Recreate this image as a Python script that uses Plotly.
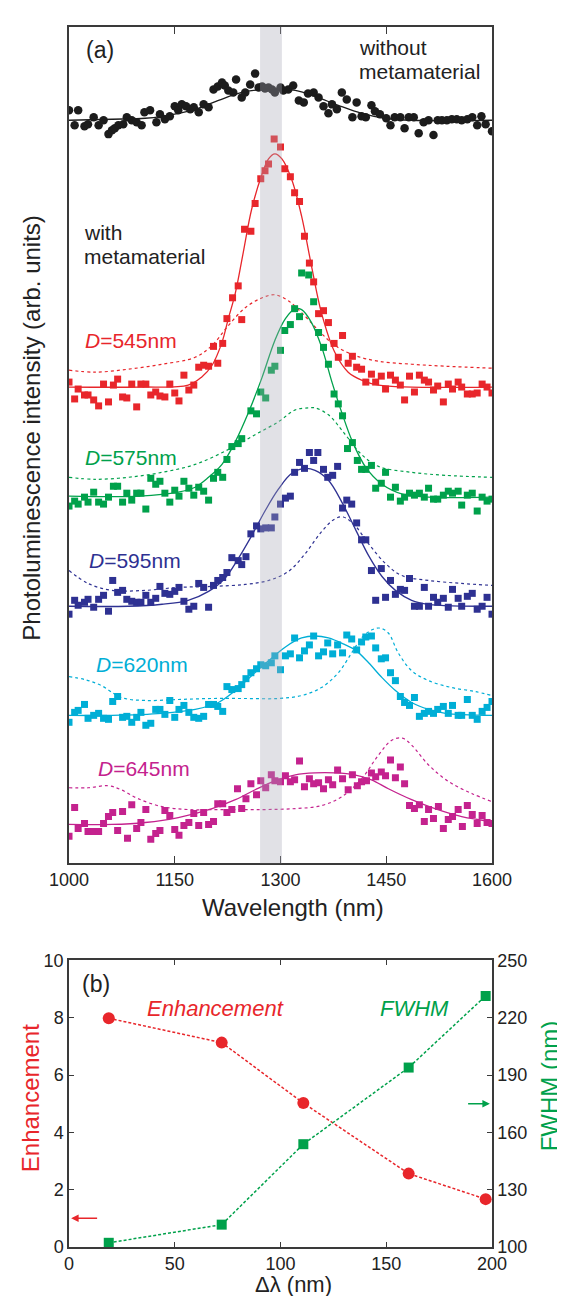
import plotly.graph_objects as go

FONT = "Liberation Sans, Arial, sans-serif"

# ---------------- Panel (a) data: wavelength (nm) / PL intensity (arb. units) ----------------
# without metamaterial (black circles)
ref_wl = [1000,1008,1013,1022,1027,1035,1042,1049,1056,1061,1065,1070,1077,1082,1089,1096,1103,1107,1115,1124,
          1129,1136,1143,1150,1155,1160,1166,1172,1177,1184,1191,1198,1205,1211,1217,1221,1226,1233,1237,1245,
          1250,1257,1264,1269,1274,1278,1283,1288,1292,1300,1304,1311,1318,1326,1333,1339,1347,1354,1361,1368,
          1373,1380,1387,1394,1402,1408,1415,1421,1429,1434,1441,1450,1456,1462,1470,1476,1482,1489,1496,1503,
          1510,1517,1523,1529,1536,1543,1550,1557,1565,1572,1579,1585,1591,1600]
ref_int = [75.9,74.4,75.9,74.3,74.5,75.2,74.4,74.9,73.5,73.9,74.1,74.4,74.5,75.2,74.9,74.7,74.4,75.7,75.9,74.7,
           75.5,75.0,75.3,76.3,75.9,76.5,76.3,76.0,76.2,75.7,76.5,76.2,78.0,78.3,78.7,78.4,77.9,77.7,79.0,77.2,
           77.7,78.5,79.6,78.2,78.3,78.1,78.2,78.0,77.7,78.2,77.9,78.0,78.4,76.9,76.7,77.6,77.7,77.2,76.3,75.6,
           76.5,76.0,77.7,77.0,75.2,76.7,75.3,75.2,76.4,75.8,75.5,75.1,74.4,75.2,75.2,74.1,75.2,75.2,73.6,74.7,
           74.9,73.4,74.9,74.9,74.9,75.0,75.0,74.9,75.0,75.2,74.4,75.3,74.5,73.8]
ref_fit_wl = [1000,1061,1108,1132,1179,1212,1245,1274,1292,1321,1349,1382,1415,1449,1486,1600]
ref_fit = [74.9,75.0,75.1,75.3,76.0,76.9,77.7,78.0,78.1,77.9,77.3,76.4,75.6,75.1,74.9,74.9]

# D = 545 nm (red)
d545_wl = [1000,1008,1013,1022,1027,1035,1042,1049,1056,1063,1069,1076,1082,1089,1096,1102,1109,1116,1123,1129,
           1136,1143,1150,1156,1163,1170,1177,1184,1191,1198,1205,1211,1218,1224,1232,1240,1245,1249,1258,1264,
           1272,1278,1283,1291,1300,1306,1314,1320,1327,1334,1341,1347,1354,1361,1368,1376,1382,1388,1396,1402,
           1408,1415,1421,1429,1435,1443,1449,1456,1463,1470,1476,1483,1490,1497,1504,1510,1517,1523,1531,1538,
           1544,1552,1557,1565,1572,1579,1586,1593,1600]
d545_int = [48.5,46.8,47.8,47.2,47.2,46.7,46.1,48.3,46.5,48.2,48.8,47.0,46.9,48.3,46.0,48.3,48.3,47.2,47.5,47.1,
            47.0,48.3,47.4,46.6,49.2,47.7,48.2,50.0,50.2,50.1,52.1,50.4,52.4,54.9,57.0,58.2,54.8,63.9,63.7,66.5,
            69.0,69.8,70.5,73.0,72.2,70.0,69.2,67.6,66.7,63.2,60.5,58.6,55.4,55.7,54.5,52.4,51.0,53.2,50.4,51.1,
            50.0,49.8,48.5,49.3,48.5,49.1,47.8,49.2,48.7,48.2,46.7,49.1,47.5,49.2,48.7,48.5,47.7,48.1,46.5,48.3,
            47.8,48.5,48.0,47.3,47.3,47.4,48.3,48.0,47.4]
d545_fit_wl = [1000,1100,1169,1188,1203,1217,1226,1236,1247,1259,1274,1283,1292,1302,1316,1330,1344,1358,1377,1396,1415,1439,1600]
d545_fit = [48.0,48.0,48.2,49.0,50.2,52.5,54.9,57.5,61.5,65.9,69.5,71.0,71.5,71.0,68.9,65.2,60.2,55.5,51.5,49.5,48.7,48.2,48.0]
d545_sim_wl = [1000,1037,1084,1132,1179,1203,1226,1250,1274,1292,1311,1330,1354,1377,1405,1439,1486,1534,1600]
d545_sim = [49.7,49.5,49.8,50.3,51.0,52.2,54.2,56.0,57.0,57.3,56.7,55.5,53.7,52.2,51.2,50.6,50.3,50.1,49.9]

# D = 575 nm (green)
d575_wl = [1000,1008,1013,1022,1027,1035,1042,1049,1056,1063,1069,1076,1082,1089,1096,1102,1109,1116,1123,1129,
           1136,1143,1150,1156,1163,1170,1177,1184,1191,1198,1205,1211,1218,1224,1231,1240,1245,1258,1266,1272,
           1279,1287,1292,1300,1306,1314,1320,1327,1330,1340,1347,1354,1361,1368,1376,1382,1388,1395,1402,1409,
           1415,1421,1429,1435,1443,1449,1456,1463,1470,1476,1483,1490,1497,1504,1510,1517,1523,1531,1538,1544,
           1552,1557,1565,1572,1579,1586,1593,1600]
d575_int = [36.0,36.5,36.2,36.9,36.4,37.4,36.4,36.2,36.9,38.0,38.0,36.4,37.3,36.6,37.3,37.3,35.7,38.8,38.2,38.5,
            37.3,36.4,37.6,37.0,38.5,37.8,37.1,37.9,37.5,36.6,38.8,39.4,38.9,40.7,42.0,42.3,42.8,45.6,45.3,47.5,
            46.9,49.7,50.1,51.7,53.7,54.3,55.9,55.1,59.5,59.3,56.6,53.5,52.0,50.3,47.3,46.3,45.1,41.8,42.4,40.6,
            39.7,39.7,40.1,37.8,38.3,39.4,36.9,37.9,36.5,36.9,37.3,37.1,37.3,36.9,37.8,36.7,36.7,37.1,37.5,37.3,
            37.5,36.1,37.1,37.3,35.5,36.9,36.5,36.7]
d575_fit_wl = [1000,1100,1155,1179,1198,1217,1236,1255,1274,1292,1307,1321,1330,1344,1359,1373,1388,1402,1421,1444,1473,1510,1600]
d575_fit = [37.0,37.0,37.4,37.9,38.9,40.2,42.5,45.5,49.0,52.7,54.9,55.9,55.8,54.5,51.9,48.5,45.2,42.5,39.9,38.2,37.2,36.9,36.9]
d575_sim_wl = [1000,1037,1084,1132,1179,1226,1264,1297,1321,1340,1349,1368,1392,1415,1439,1486,1534,1600]
d575_sim = [38.9,38.7,38.9,39.4,40.2,41.7,43.2,44.5,45.7,45.9,45.9,45.2,43.2,41.2,40.0,39.4,39.1,38.9]

# D = 595 nm (blue)
d595_wl = [1000,1008,1013,1022,1027,1035,1042,1049,1056,1062,1069,1076,1082,1089,1096,1102,1109,1116,1123,1129,
           1136,1143,1150,1156,1163,1170,1177,1184,1191,1198,1205,1211,1218,1224,1231,1240,1245,1251,1258,1266,
           1272,1279,1287,1292,1300,1307,1314,1320,1327,1334,1341,1347,1353,1361,1367,1374,1381,1388,1394,1401,
           1408,1415,1421,1429,1435,1443,1449,1456,1463,1470,1476,1483,1490,1497,1504,1510,1517,1523,1531,1538,
           1544,1552,1557,1565,1572,1579,1586,1593,1600]
d595_int = [25.1,26.5,26.0,26.3,26.6,25.8,26.6,27.0,25.4,28.5,27.3,27.5,26.6,26.4,26.3,26.3,27.0,26.3,26.7,27.9,
            27.2,27.1,27.4,27.8,26.4,25.6,25.9,28.2,27.8,25.8,28.0,28.5,28.8,29.3,30.8,30.5,30.1,30.9,33.2,34.0,
            33.7,33.8,33.8,34.9,36.2,36.8,37.0,39.4,40.4,39.8,41.4,40.6,41.4,39.7,38.9,39.1,40.0,35.8,36.6,36.2,
            34.3,32.6,32.6,29.5,26.5,29.7,26.8,28.5,27.1,27.6,27.5,28.7,25.9,25.9,27.8,25.9,26.8,26.3,26.7,25.8,
            27.6,26.7,25.9,26.9,27.2,25.6,25.9,26.8,25.1]
d595_fit_wl = [1000,1084,1132,1169,1198,1221,1240,1259,1278,1297,1316,1335,1349,1368,1387,1406,1425,1444,1463,1486,1510,1600]
d595_fit = [25.9,25.9,26.1,26.5,27.4,28.7,30.7,33.0,35.5,37.7,39.3,39.8,39.6,38.6,36.4,33.7,31.0,28.9,27.5,26.5,26.1,25.9]
d595_sim_wl = [1000,1027,1061,1108,1155,1203,1250,1283,1311,1335,1358,1377,1389,1406,1425,1449,1472,1510,1557,1600]
d595_sim = [29.5,28.2,27.5,27.5,27.8,27.9,28.1,28.5,29.4,31.2,33.4,34.7,34.9,34.0,32.2,30.2,29.0,28.5,28.2,28.0]

# D = 620 nm (cyan)
d620_wl = [1000,1008,1013,1022,1027,1035,1042,1049,1056,1062,1069,1076,1082,1089,1096,1102,1109,1116,1123,1129,
           1136,1143,1150,1156,1163,1170,1177,1184,1191,1198,1205,1211,1218,1224,1231,1240,1245,1251,1258,1266,
           1272,1279,1287,1292,1300,1307,1314,1320,1327,1334,1341,1347,1354,1361,1367,1374,1381,1388,1394,1401,
           1408,1415,1421,1429,1435,1443,1449,1456,1463,1470,1476,1483,1490,1497,1504,1510,1517,1523,1531,1538,
           1544,1552,1557,1565,1572,1579,1586,1593,1600]
d620_int = [14.2,15.2,15.4,16.0,14.6,14.9,15.1,14.6,14.5,16.3,16.8,14.7,14.8,14.2,14.7,15.2,13.9,14.1,15.5,15.5,
            15.0,16.4,14.7,15.5,15.9,15.2,14.7,14.6,14.8,16.0,16.0,15.8,15.3,17.8,17.5,17.6,18.0,18.6,19.2,19.6,
            20.0,19.9,20.2,20.9,19.5,20.9,21.1,22.7,20.7,21.4,22.0,22.9,20.9,21.3,22.2,21.1,22.0,21.2,23.0,22.6,
            21.5,22.3,22.8,22.9,21.7,20.6,20.7,19.2,18.4,16.8,16.2,15.9,16.7,14.8,15.1,15.3,15.1,15.5,15.8,15.1,
            15.9,14.9,14.9,16.5,14.9,14.5,15.3,15.7,16.3]
d620_fit_wl = [1000,1061,1132,1179,1212,1236,1259,1283,1307,1330,1349,1368,1392,1406,1425,1444,1463,1486,1510,1534,1600]
d620_fit = [14.9,14.9,15.1,15.5,16.2,17.4,18.9,20.4,21.8,22.7,22.9,22.7,22.0,21.5,20.2,18.7,17.4,16.2,15.5,15.1,14.9]
d620_sim_wl = [1000,1023,1046,1074,1108,1155,1203,1250,1297,1330,1358,1382,1401,1415,1429,1441,1453,1467,1486,1510,1543,1576,1600]
d620_sim = [18.8,18.5,17.9,16.7,16.4,16.5,16.6,16.6,16.6,16.9,17.7,19.2,21.2,22.7,23.5,23.7,23.2,21.2,19.4,18.4,17.7,17.3,16.9]

# D = 645 nm (magenta)
d645_wl = [1000,1008,1013,1022,1027,1035,1042,1049,1056,1062,1069,1076,1083,1089,1096,1102,1109,1116,1123,1129,
           1136,1143,1150,1156,1163,1170,1177,1184,1191,1198,1205,1211,1218,1224,1231,1239,1245,1251,1258,1266,
           1272,1279,1287,1292,1300,1307,1314,1320,1327,1334,1341,1347,1354,1361,1368,1374,1381,1388,1396,1402,
           1409,1415,1422,1429,1435,1443,1449,1456,1463,1470,1476,1483,1490,1497,1504,1510,1517,1524,1531,1538,
           1544,1552,1558,1565,1572,1579,1586,1593,1600]
d645_int = [2.7,5.6,3.5,4.0,3.2,3.2,3.2,4.0,4.7,5.1,3.3,5.2,2.5,5.9,3.5,4.1,5.4,2.4,3.0,3.3,
            5.3,4.8,3.4,2.8,3.8,4.1,5.0,3.8,5.1,3.9,4.2,6.0,6.0,5.1,5.4,7.5,5.5,6.5,8.0,6.9,
            8.3,7.6,8.9,8.3,8.2,8.8,8.2,8.4,10.3,7.7,8.5,8.0,8.1,7.5,8.4,7.9,9.4,8.5,7.4,8.9,
            7.8,8.2,8.3,9.1,8.7,9.2,8.8,10.4,8.6,9.7,8.0,5.8,5.5,5.9,4.2,5.4,4.5,5.7,3.5,4.4,
            4.7,5.4,3.7,5.8,4.9,4.0,4.8,4.1,4.0]
d645_fit_wl = [1000,1061,1108,1155,1203,1236,1264,1292,1321,1349,1377,1405,1429,1453,1486,1519,1557,1600]
d645_fit = [3.9,3.9,4.1,4.6,5.5,6.4,7.4,8.3,8.9,9.1,9.1,8.9,8.4,7.5,6.4,5.5,4.7,4.2]
d645_sim_wl = [1000,1027,1056,1074,1098,1132,1170,1217,1274,1321,1358,1387,1415,1439,1458,1473,1486,1510,1539,1572,1600]
d645_sim = [7.6,7.6,7.8,7.4,6.5,5.7,5.4,5.4,5.4,5.5,5.8,6.7,8.5,10.9,12.4,12.6,11.9,9.9,8.2,7.0,6.2]

band_wl = [1271, 1302]
a_ticks = [1000, 1150, 1300, 1450, 1600]

# ---------------- Panel (b) data ----------------
delta_lambda = [18.8, 72.2, 110.8, 160.6, 197.0]
enhancement = [7.98, 7.13, 5.02, 2.56, 1.67]
fwhm_nm = [102.2, 111.7, 153.8, 193.9, 231.4]
b_xticks = [0, 50, 100, 150, 200]
b_lticks = [0, 2, 4, 6, 8, 10]
b_rticks = [100, 130, 160, 190, 220, 250]

BLACK = "#1c1c1c"
RED = "#e8262b"
GREEN = "#00a14b"
BLUE = "#2e3192"
CYAN = "#00aed6"
MAGENTA = "#c4228e"
AXC = "#3a3a3a"

fig = go.Figure()

fig.add_trace(go.Scatter(x=ref_wl, y=ref_int, mode="markers", xaxis="x", yaxis="y",
                         marker=dict(symbol="circle", size=8.5, color=BLACK, line=dict(width=0))))
fig.add_trace(go.Scatter(x=ref_fit_wl, y=ref_fit, mode="lines", line_shape="spline", xaxis="x", yaxis="y",
                         line=dict(color=BLACK, width=1.3)))

series = [
    (d545_wl, d545_int, d545_fit_wl, d545_fit, d545_sim_wl, d545_sim, RED),
    (d575_wl, d575_int, d575_fit_wl, d575_fit, d575_sim_wl, d575_sim, GREEN),
    (d595_wl, d595_int, d595_fit_wl, d595_fit, d595_sim_wl, d595_sim, BLUE),
    (d620_wl, d620_int, d620_fit_wl, d620_fit, d620_sim_wl, d620_sim, CYAN),
    (d645_wl, d645_int, d645_fit_wl, d645_fit, d645_sim_wl, d645_sim, MAGENTA),
]
for wl, iv, fw, fv, sw, sv, col in series:
    fig.add_trace(go.Scatter(x=wl, y=iv, mode="markers", xaxis="x", yaxis="y",
                             marker=dict(symbol="square", size=7, color=col, line=dict(width=0))))
    fig.add_trace(go.Scatter(x=fw, y=fv, mode="lines", line_shape="spline", xaxis="x", yaxis="y",
                             line=dict(color=col, width=1.3)))
    fig.add_trace(go.Scatter(x=sw, y=sv, mode="lines", line_shape="spline", xaxis="x", yaxis="y",
                             line=dict(color=col, width=1.2, dash="3px,3px")))

# Panel (b)
fig.add_trace(go.Scatter(x=delta_lambda, y=enhancement, mode="lines+markers", xaxis="x2", yaxis="y2",
                         line=dict(color=RED, width=1.5, dash="3px,2px"),
                         marker=dict(symbol="circle", size=12, color=RED, line=dict(width=0))))
fig.add_trace(go.Scatter(x=delta_lambda, y=fwhm_nm, mode="lines+markers", xaxis="x2", yaxis="y3",
                         line=dict(color=GREEN, width=1.5, dash="3px,2px"),
                         marker=dict(symbol="square", size=10, color=GREEN, line=dict(width=0))))

# layout geometry
ML, MR, MT, MB = 61, 81, 9, 57
H, W = 1296, 565
PH = H - MT - MB
PW = W - ML - MR
def py(p):
    return (H - MB - p) / PH
def px(p):
    return (p - ML) / PW

axis_common = dict(showline=True, linecolor=AXC, linewidth=1.5, showgrid=False, zeroline=False,
                   tickfont=dict(size=18, color="#222", family=FONT), tickcolor=AXC, tickwidth=1.2)

fig.update_layout(
    width=W, height=H, margin=dict(l=ML, r=MR, t=MT, b=MB),
    paper_bgcolor="white", plot_bgcolor="white", showlegend=False,
    font=dict(family=FONT, color="#222"),
    xaxis=dict(domain=[0, 1], anchor="y", range=[1000, 1600], tickvals=a_ticks, ticks="inside", ticklen=7,
               mirror="ticks", **axis_common),
    yaxis=dict(domain=[py(852), 1], anchor="x", range=[0, 84.3], showticklabels=False, ticks="",
               mirror=True, **axis_common),
    xaxis2=dict(domain=[0, 1], anchor="y2", range=[0, 200], tickvals=b_xticks, ticks="inside", ticklen=5,
                mirror="ticks", **axis_common),
    yaxis2=dict(domain=[0, py(950)], anchor="x2", range=[0, 10], tickvals=b_lticks, ticks="inside", ticklen=5,
                **axis_common),
    yaxis3=dict(overlaying="y2", side="right", anchor="x2", range=[100, 250], tickvals=b_rticks,
                ticks="inside", ticklen=5, **axis_common),
)

fig.add_shape(type="rect", xref="x", yref="y domain", x0=band_wl[0], x1=band_wl[1], y0=0, y1=1,
              fillcolor="rgb(166,168,182)", opacity=0.34, line=dict(width=0), layer="above")

def txt(x, y, s, size, color="#222", xanchor="left", angle=0):
    fig.add_annotation(x=x, y=y, xref="paper", yref="paper", text=s, showarrow=False,
                       xanchor=xanchor, yanchor="middle", textangle=angle,
                       font=dict(size=size, color=color, family=FONT))

# panel (a) texts
txt(px(76), py(32), "(a)", 23)
txt(px(349), py(30), "without", 21)
txt(px(349), py(54), "metamaterial", 21)
txt(px(74), py(216), "with", 21)
txt(px(74), py(240), "metamaterial", 21)
txt(px(75), py(325), "<i>D</i>=545nm", 21, RED)
txt(px(75), py(443), "<i>D</i>=575nm", 21, GREEN)
txt(px(79), py(547), "<i>D</i>=595nm", 21, BLUE)
txt(px(86), py(652), "<i>D</i>=620nm", 21, CYAN)
txt(px(88), py(757), "<i>D</i>=645nm", 21, MAGENTA)
txt(px(24), py(413), "Photoluminescence intensity (arb. units)", 24, "#222", "center", -90)
txt(px(285), py(897), "Wavelength (nm)", 24, "#222", "center")

# panel (b) texts
txt(px(72), py(974), "(b)", 23)
txt(px(137), py(999), "<i>Enhancement</i>", 22, RED)
txt(px(370), py(999), "<i>FWHM</i>", 22, GREEN)
txt(px(22), py(1089), "Enhancement", 24, RED, "center", -90)
txt(px(541), py(1077), "FWHM (nm)", 24, GREEN, "center", -90)
txt(px(285), py(1277), "Δλ (nm)", 22, "#222", "center")

# axis-pointing arrows
fig.add_annotation(x=1.0, y=1.0, ax=14, ay=1.0, xref="x2", yref="y2", axref="x2", ayref="y2", text="",
                   showarrow=True, arrowhead=2, arrowsize=1, arrowwidth=1.5, arrowcolor=RED)
fig.add_annotation(x=199, y=175, ax=188, ay=175, xref="x2", yref="y3", axref="x2", ayref="y3", text="",
                   showarrow=True, arrowhead=2, arrowsize=1, arrowwidth=1.5, arrowcolor=GREEN)

fig.write_html("out.html")
